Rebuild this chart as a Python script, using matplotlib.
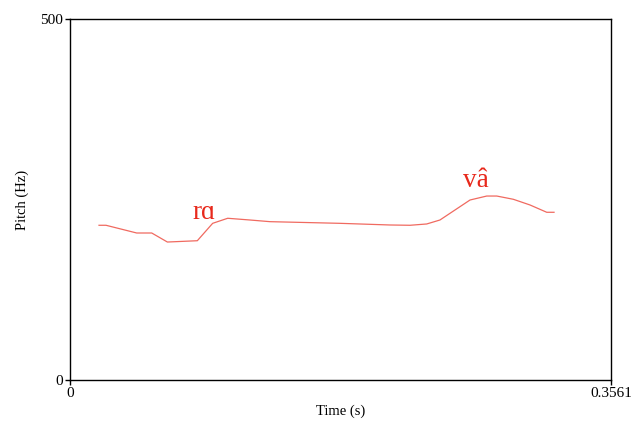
import matplotlib
matplotlib.use("Agg")
import matplotlib.pyplot as plt

# pitch track (time in s, pitch in Hz)
time_s = [0.0191, 0.0237, 0.0439, 0.0538, 0.0641, 0.0838, 0.0939, 0.1038,
          0.1185, 0.1316, 0.1777, 0.2106, 0.2238, 0.2348, 0.2435, 0.2633,
          0.2743, 0.2809, 0.2918, 0.3028, 0.3138, 0.3186]
pitch_hz = [214.3, 214.3, 203.6, 203.6, 191.1, 192.9, 217.0, 224.0,
            221.6, 219.3, 217.0, 214.7, 214.3, 216.1, 221.6, 249.3,
            254.8, 254.8, 250.3, 242.4, 232.3, 232.3]

syllables = ["rɑ", "vâ"]
syl_time = [0.0882, 0.2672]
syl_pitch = [222.4, 266.9]

t_max = 0.3561
f_max = 500

plt.rcParams['font.family'] = ['Liberation Serif', 'DejaVu Serif']

fig = plt.figure(figsize=(6.32, 4.21), dpi=100)
ax = fig.add_axes([70 / 632, 41 / 421, 541 / 632, 361 / 421])

ax.plot(time_s, pitch_hz, color="#f06a60", lw=0.9)
for s, t, f in zip(syllables, syl_time, syl_pitch):
    ax.text(t, f, s, color="#e8291c", fontsize=19.5, ha="center", va="baseline")

ax.set_xlim(0, t_max)
ax.set_ylim(0, f_max)
ax.set_xticks([0, t_max])
ax.set_xticklabels(["0", "0.3561"])
ax.set_yticks([0, f_max])
ax.set_yticklabels(["0", "500"])
ax.tick_params(direction="out", length=3.5, width=1.0, labelsize=11, pad=1.5)
for sp in ax.spines.values():
    sp.set_linewidth(1.0)
ax.set_xlabel("Time (s)", fontsize=10.5, labelpad=3)
ax.set_ylabel("Pitch (Hz)", fontsize=10.5, labelpad=8)

fig.savefig("out.png", dpi=100)
